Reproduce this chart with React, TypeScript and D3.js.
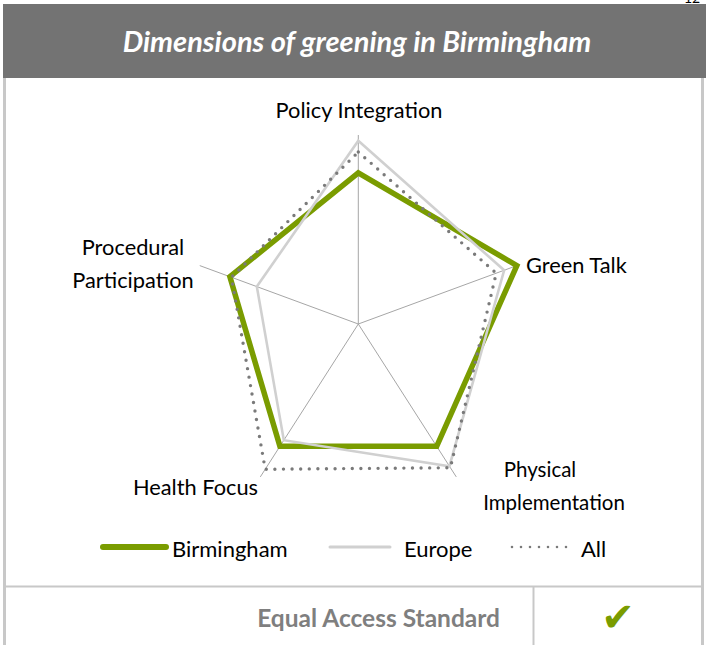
import * as d3 from "d3";

// chart values (0..1 scale)
const categories = ["Policy Integration", "Green Talk", "Physical Implementation", "Health Focus", "Procedural Participation"];
const birmingham = [0.8, 1.0, 0.8, 0.8, 0.81];
const europe = [0.97, 0.92, 0.93, 0.76, 0.64];
const allCities = [0.91, 0.87, 0.94, 0.95, 0.8];
const seriesNames = ["Birmingham", "Europe", "All"];

const W = 706;
const H = 645;
const cx = 358.3;
const cy = 324;
const FONT = "Lato, 'Open Sans', sans-serif";

// the source picture is stretched vertically, so radius differs by direction
const rX = d3.scaleLinear().domain([0, 1]).range([0, 166.7]);
const rY = d3.scaleLinear().domain([0, 1]).range([0, 189]);
const angle = d3.scalePoint<string>().domain(categories).range([0, (2 * Math.PI * 4) / 5]);

const pt = (cat: string, v: number): [number, number] => {
  const a = angle(cat)!;
  return [cx + rX(v) * Math.sin(a), cy - rY(v) * Math.cos(a)];
};

const ring = d3.line<[number, number]>().curve(d3.curveLinearClosed);

const styles = [
  { stroke: "#7a9c00", width: 5.5, dash: undefined as string | undefined },
  { stroke: "#d0d0d0", width: 2.6, dash: undefined },
  { stroke: "#7a7a7a", width: 3.4, dash: "0 8.6" },
];

export default function App() {
  const series = [birmingham, europe, allCities];

  const labelLines: Record<string, { lines: string[]; x: number[]; y: number; anchor: string; size?: number }> = {
    "Policy Integration": { lines: ["Policy Integration"], x: [359], y: 118, anchor: "middle" },
    "Green Talk": { lines: ["Green Talk"], x: [526], y: 273, anchor: "start" },
    "Physical Implementation": { lines: ["Physical", "Implementation"], x: [540, 554], y: 477, anchor: "middle", size: 20.5 },
    "Health Focus": { lines: ["Health Focus"], x: [258], y: 495, anchor: "end" },
    "Procedural Participation": { lines: ["Procedural", "Participation"], x: [133, 133], y: 255, anchor: "middle" },
  };

  const legendX = [
    { x1: 103, x2: 166, tx: 172 },
    { x1: 330, x2: 390, tx: 404 },
    { x1: 512, x2: 567, tx: 581 },
  ];

  return (
    <svg width={W} height={H} style={{ position: "absolute", left: 0, top: 0, background: "#fff" }} fontFamily={FONT}>
      <text x={684} y={3} fontSize={14} fill="#000">12</text>
      {/* header */}
      <rect x={3} y={4} width={W - 3} height={74} fill="#737373" />
      <text x={357} y={52} textAnchor="middle" fill="#fff" fontSize={29} fontStyle="italic" fontWeight={700}>
        Dimensions of greening in Birmingham
      </text>

      {/* frame */}
      <line x1={4.5} y1={78} x2={4.5} y2={H} stroke="#c8c8c8" strokeWidth={3} />
      <line x1={702.5} y1={78} x2={702.5} y2={H} stroke="#c8c8c8" strokeWidth={3} />
      <line x1={4} y1={586.5} x2={703} y2={586.5} stroke="#c8c8c8" strokeWidth={2} />
      <line x1={533.5} y1={587} x2={533.5} y2={H} stroke="#c8c8c8" strokeWidth={2} />

      {/* spokes */}
      {categories.map((c) => {
        const [x, y] = pt(c, 1);
        return <line key={c} x1={cx} y1={cy} x2={x} y2={y} stroke="#a6a6a6" strokeWidth={1} />;
      })}

      {/* series */}
      {series.map((vals, i) => (
        <path
          key={seriesNames[i]}
          d={ring(categories.map((c, j) => pt(c, vals[j])))!}
          fill="none"
          stroke={styles[i].stroke}
          strokeWidth={styles[i].width}
          strokeDasharray={styles[i].dash}
          strokeLinecap={styles[i].dash ? "round" : "butt"}
          strokeLinejoin="miter"
        />
      ))}

      {/* category labels */}
      {categories.map((c) => {
        const l = labelLines[c];
        return (
          <text key={c} fontSize={l.size ?? 21.8} fill="#000" textAnchor={l.anchor}>
            {l.lines.map((s, k) => (
              <tspan key={k} x={l.x[k]} y={l.y + k * 33}>{s}</tspan>
            ))}
          </text>
        );
      })}

      {/* legend */}
      {seriesNames.map((n, i) => (
        <g key={n}>
          <line
            x1={legendX[i].x1}
            x2={legendX[i].x2}
            y1={547}
            y2={547}
            stroke={styles[i].stroke}
            strokeWidth={i === 0 ? 6 : i === 1 ? 3 : 2.6}
            strokeLinecap="round"
            strokeDasharray={i === 2 ? "0 9" : undefined}
          />
          <text x={legendX[i].tx} y={557} fontSize={22} fill="#000">{n}</text>
        </g>
      ))}

      {/* footer row */}
      <text x={500} y={627} textAnchor="end" fontSize={24.5} fontWeight={700} fill="#7f7f7f">
        Equal Access Standard
      </text>
      <text x={618} y={631} textAnchor="middle" fontSize={40} fill="#7a9c00" fontFamily="'DejaVu Sans'">✔</text>
    </svg>
  );
}
